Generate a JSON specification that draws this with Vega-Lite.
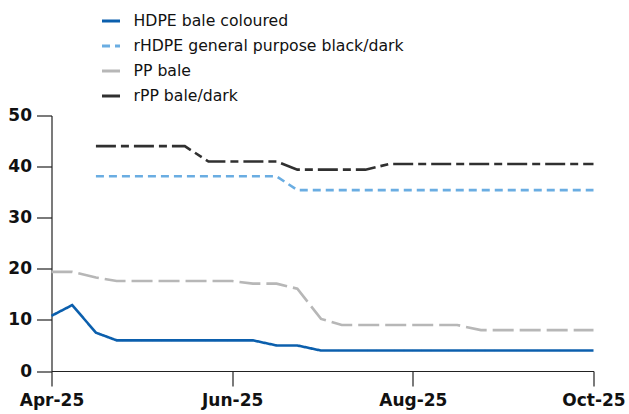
{
  "$schema": "https://vega.github.io/schema/vega-lite/v6.json",
  "width": 542,
  "height": 255.5,
  "autosize": {"type": "none"},
  "padding": {"left": 51.5, "top": 115.5, "right": 35.5, "bottom": 43},
  "background": "white",
  "config": {
    "font": "DejaVu Sans",
    "view": {"stroke": null},
    "axis": {
      "domainColor": "#222222",
      "tickColor": "#222222",
      "domainWidth": 1.2,
      "tickWidth": 1.2,
      "labelColor": "#111111",
      "labelFont": "DejaVu Sans",
      "labelFontWeight": "bold",
      "labelFontSize": 17,
      "grid": false,
      "title": null
    }
  },
  "data": {
    "values": [
      {"date": "2025-04-01T00:00:00", "series": "HDPE bale coloured", "value": 10.8},
      {"date": "2025-04-08T00:00:00", "series": "HDPE bale coloured", "value": 12.9},
      {"date": "2025-04-16T00:00:00", "series": "HDPE bale coloured", "value": 7.5},
      {"date": "2025-04-23T00:00:00", "series": "HDPE bale coloured", "value": 6},
      {"date": "2025-05-01T00:00:00", "series": "HDPE bale coloured", "value": 6},
      {"date": "2025-05-08T00:00:00", "series": "HDPE bale coloured", "value": 6},
      {"date": "2025-05-16T00:00:00", "series": "HDPE bale coloured", "value": 6},
      {"date": "2025-05-24T00:00:00", "series": "HDPE bale coloured", "value": 6},
      {"date": "2025-06-01T00:00:00", "series": "HDPE bale coloured", "value": 6},
      {"date": "2025-06-08T00:00:00", "series": "HDPE bale coloured", "value": 6},
      {"date": "2025-06-16T00:00:00", "series": "HDPE bale coloured", "value": 5},
      {"date": "2025-06-23T00:00:00", "series": "HDPE bale coloured", "value": 5},
      {"date": "2025-07-01T00:00:00", "series": "HDPE bale coloured", "value": 4},
      {"date": "2025-07-08T00:00:00", "series": "HDPE bale coloured", "value": 4},
      {"date": "2025-07-16T00:00:00", "series": "HDPE bale coloured", "value": 4},
      {"date": "2025-07-24T00:00:00", "series": "HDPE bale coloured", "value": 4},
      {"date": "2025-08-01T00:00:00", "series": "HDPE bale coloured", "value": 4},
      {"date": "2025-08-08T00:00:00", "series": "HDPE bale coloured", "value": 4},
      {"date": "2025-08-16T00:00:00", "series": "HDPE bale coloured", "value": 4},
      {"date": "2025-08-24T00:00:00", "series": "HDPE bale coloured", "value": 4},
      {"date": "2025-09-01T00:00:00", "series": "HDPE bale coloured", "value": 4},
      {"date": "2025-09-08T00:00:00", "series": "HDPE bale coloured", "value": 4},
      {"date": "2025-09-16T00:00:00", "series": "HDPE bale coloured", "value": 4},
      {"date": "2025-09-23T00:00:00", "series": "HDPE bale coloured", "value": 4},
      {"date": "2025-10-01T00:00:00", "series": "HDPE bale coloured", "value": 4},

      {"date": "2025-04-16T00:00:00", "series": "rHDPE general purpose black/dark", "value": 38.1},
      {"date": "2025-04-23T00:00:00", "series": "rHDPE general purpose black/dark", "value": 38.1},
      {"date": "2025-05-01T00:00:00", "series": "rHDPE general purpose black/dark", "value": 38.1},
      {"date": "2025-05-08T00:00:00", "series": "rHDPE general purpose black/dark", "value": 38.1},
      {"date": "2025-05-16T00:00:00", "series": "rHDPE general purpose black/dark", "value": 38.1},
      {"date": "2025-05-24T00:00:00", "series": "rHDPE general purpose black/dark", "value": 38.1},
      {"date": "2025-06-01T00:00:00", "series": "rHDPE general purpose black/dark", "value": 38.1},
      {"date": "2025-06-08T00:00:00", "series": "rHDPE general purpose black/dark", "value": 38.1},
      {"date": "2025-06-16T00:00:00", "series": "rHDPE general purpose black/dark", "value": 38.1},
      {"date": "2025-06-23T00:00:00", "series": "rHDPE general purpose black/dark", "value": 35.4},
      {"date": "2025-07-01T00:00:00", "series": "rHDPE general purpose black/dark", "value": 35.4},
      {"date": "2025-07-08T00:00:00", "series": "rHDPE general purpose black/dark", "value": 35.4},
      {"date": "2025-07-16T00:00:00", "series": "rHDPE general purpose black/dark", "value": 35.4},
      {"date": "2025-07-24T00:00:00", "series": "rHDPE general purpose black/dark", "value": 35.4},
      {"date": "2025-08-01T00:00:00", "series": "rHDPE general purpose black/dark", "value": 35.4},
      {"date": "2025-08-08T00:00:00", "series": "rHDPE general purpose black/dark", "value": 35.4},
      {"date": "2025-08-16T00:00:00", "series": "rHDPE general purpose black/dark", "value": 35.4},
      {"date": "2025-08-24T00:00:00", "series": "rHDPE general purpose black/dark", "value": 35.4},
      {"date": "2025-09-01T00:00:00", "series": "rHDPE general purpose black/dark", "value": 35.4},
      {"date": "2025-09-08T00:00:00", "series": "rHDPE general purpose black/dark", "value": 35.4},
      {"date": "2025-09-16T00:00:00", "series": "rHDPE general purpose black/dark", "value": 35.4},
      {"date": "2025-09-23T00:00:00", "series": "rHDPE general purpose black/dark", "value": 35.4},
      {"date": "2025-10-01T00:00:00", "series": "rHDPE general purpose black/dark", "value": 35.4},

      {"date": "2025-04-01T00:00:00", "series": "PP bale", "value": 19.4},
      {"date": "2025-04-08T00:00:00", "series": "PP bale", "value": 19.4},
      {"date": "2025-04-16T00:00:00", "series": "PP bale", "value": 18.3},
      {"date": "2025-04-23T00:00:00", "series": "PP bale", "value": 17.6},
      {"date": "2025-05-01T00:00:00", "series": "PP bale", "value": 17.6},
      {"date": "2025-05-08T00:00:00", "series": "PP bale", "value": 17.6},
      {"date": "2025-05-16T00:00:00", "series": "PP bale", "value": 17.6},
      {"date": "2025-05-24T00:00:00", "series": "PP bale", "value": 17.6},
      {"date": "2025-06-01T00:00:00", "series": "PP bale", "value": 17.6},
      {"date": "2025-06-08T00:00:00", "series": "PP bale", "value": 17.1},
      {"date": "2025-06-16T00:00:00", "series": "PP bale", "value": 17.1},
      {"date": "2025-06-23T00:00:00", "series": "PP bale", "value": 16.1},
      {"date": "2025-07-01T00:00:00", "series": "PP bale", "value": 10.2},
      {"date": "2025-07-08T00:00:00", "series": "PP bale", "value": 9},
      {"date": "2025-07-16T00:00:00", "series": "PP bale", "value": 9},
      {"date": "2025-07-24T00:00:00", "series": "PP bale", "value": 9},
      {"date": "2025-08-01T00:00:00", "series": "PP bale", "value": 9},
      {"date": "2025-08-08T00:00:00", "series": "PP bale", "value": 9},
      {"date": "2025-08-16T00:00:00", "series": "PP bale", "value": 9},
      {"date": "2025-08-24T00:00:00", "series": "PP bale", "value": 8},
      {"date": "2025-09-01T00:00:00", "series": "PP bale", "value": 8},
      {"date": "2025-09-08T00:00:00", "series": "PP bale", "value": 8},
      {"date": "2025-09-16T00:00:00", "series": "PP bale", "value": 8},
      {"date": "2025-09-23T00:00:00", "series": "PP bale", "value": 8},
      {"date": "2025-10-01T00:00:00", "series": "PP bale", "value": 8},

      {"date": "2025-04-16T00:00:00", "series": "rPP bale/dark", "value": 44.0},
      {"date": "2025-04-23T00:00:00", "series": "rPP bale/dark", "value": 44.0},
      {"date": "2025-05-01T00:00:00", "series": "rPP bale/dark", "value": 44.0},
      {"date": "2025-05-08T00:00:00", "series": "rPP bale/dark", "value": 44.0},
      {"date": "2025-05-16T00:00:00", "series": "rPP bale/dark", "value": 44.0},
      {"date": "2025-05-24T00:00:00", "series": "rPP bale/dark", "value": 41.0},
      {"date": "2025-06-01T00:00:00", "series": "rPP bale/dark", "value": 41.0},
      {"date": "2025-06-08T00:00:00", "series": "rPP bale/dark", "value": 41.0},
      {"date": "2025-06-16T00:00:00", "series": "rPP bale/dark", "value": 41.0},
      {"date": "2025-06-23T00:00:00", "series": "rPP bale/dark", "value": 39.4},
      {"date": "2025-07-01T00:00:00", "series": "rPP bale/dark", "value": 39.4},
      {"date": "2025-07-08T00:00:00", "series": "rPP bale/dark", "value": 39.4},
      {"date": "2025-07-16T00:00:00", "series": "rPP bale/dark", "value": 39.4},
      {"date": "2025-07-24T00:00:00", "series": "rPP bale/dark", "value": 40.5},
      {"date": "2025-08-01T00:00:00", "series": "rPP bale/dark", "value": 40.5},
      {"date": "2025-08-08T00:00:00", "series": "rPP bale/dark", "value": 40.5},
      {"date": "2025-08-16T00:00:00", "series": "rPP bale/dark", "value": 40.5},
      {"date": "2025-08-24T00:00:00", "series": "rPP bale/dark", "value": 40.5},
      {"date": "2025-09-01T00:00:00", "series": "rPP bale/dark", "value": 40.5},
      {"date": "2025-09-08T00:00:00", "series": "rPP bale/dark", "value": 40.5},
      {"date": "2025-09-16T00:00:00", "series": "rPP bale/dark", "value": 40.5},
      {"date": "2025-09-23T00:00:00", "series": "rPP bale/dark", "value": 40.5},
      {"date": "2025-10-01T00:00:00", "series": "rPP bale/dark", "value": 40.5}
    ]
  },
  "mark": {"type": "line", "strokeWidth": 2.6, "strokeCap": "butt"},
  "encoding": {
    "x": {
      "field": "date",
      "type": "temporal",
      "scale": {"domain": [{"year": 2025, "month": 4, "date": 1}, {"year": 2025, "month": 10, "date": 1}]},
      "axis": {
        "values": [
          {"year": 2025, "month": 4, "date": 1},
          {"year": 2025, "month": 6, "date": 1},
          {"year": 2025, "month": 8, "date": 1},
          {"year": 2025, "month": 10, "date": 1}
        ],
        "format": "%b-%y",
        "tickSize": 15,
        "labelPadding": 6,
        "labelFlush": false
      }
    },
    "y": {
      "field": "value",
      "type": "quantitative",
      "scale": {"domain": [0, 50]},
      "axis": {"values": [0, 10, 20, 30, 40, 50], "tickSize": 15, "labelPadding": 5}
    },
    "color": {
      "field": "series",
      "type": "nominal",
      "scale": {
        "domain": ["HDPE bale coloured", "rHDPE general purpose black/dark", "PP bale", "rPP bale/dark"],
        "range": ["#0b5fad", "#6aade2", "#b7b7b7", "#303030"]
      },
      "legend": {
        "title": null,
        "orient": "none",
        "legendX": 49,
        "legendY": -105,
        "direction": "vertical",
        "symbolType": "stroke",
        "symbolSize": 324,
        "symbolStrokeWidth": 3,
        "labelFontSize": 15.7,
        "labelColor": "#111111",
        "labelFont": "DejaVu Sans",
        "labelOffset": 12,
        "rowPadding": 6,
        "labelLimit": 500,
        "encode": {
          "symbols": {
            "update": {
              "strokeDash": [
                {"test": "datum.value === 'rPP bale/dark' || datum.value === 'rHDPE general purpose black/dark'", "value": [7, 4]},
                {"value": [1, 0]}
              ]
            }
          }
        }
      }
    },
    "strokeDash": {
      "field": "series",
      "type": "nominal",
      "scale": {
        "domain": ["HDPE bale coloured", "rHDPE general purpose black/dark", "PP bale", "rPP bale/dark"],
        "range": [[1, 0], [8, 5], [21, 6], [20, 5, 8, 5]]
      },
      "legend": null
    }
  }
}
